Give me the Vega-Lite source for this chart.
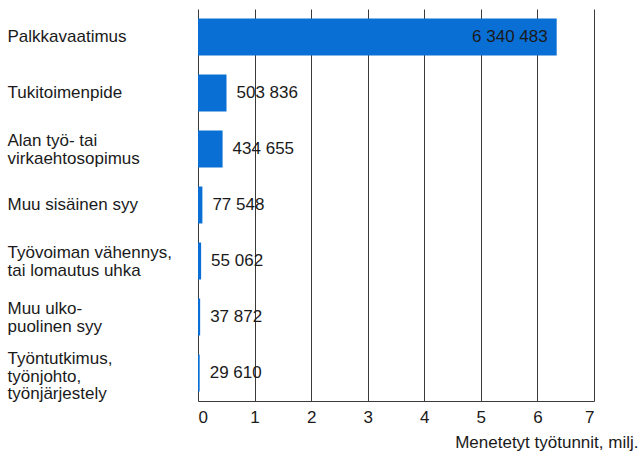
{
  "$schema": "https://vega.github.io/schema/vega-lite/v6.json",
  "width": 396,
  "height": 392,
  "autosize": "none",
  "padding": {"left": 198, "top": 9, "right": 48, "bottom": 53},
  "background": "white",
  "config": {
    "view": {"stroke": null},
    "font": "Liberation Sans",
    "locale": {"number": {"decimal": ",", "thousands": " ", "grouping": [3], "currency": ["", " €"]}}
  },
  "data": {
    "values": [
      {"syy": "Palkkavaatimus", "tunnit": 6340483},
      {"syy": "Tukitoimenpide", "tunnit": 503836},
      {"syy": "Alan työ- tai\nvirkaehtosopimus", "tunnit": 434655},
      {"syy": "Muu sisäinen syy", "tunnit": 77548},
      {"syy": "Työvoiman vähennys,\ntai lomautus uhka", "tunnit": 55062},
      {"syy": "Muu ulko-\npuolinen syy", "tunnit": 37872},
      {"syy": "Työntutkimus,\ntyönjohto,\ntyönjärjestely", "tunnit": 29610}
    ]
  },
  "encoding": {
    "y": {
      "field": "syy",
      "type": "nominal",
      "sort": null,
      "scale": {"paddingInner": 0.34, "paddingOuter": 0.17},
      "axis": {
        "title": null,
        "ticks": false,
        "domain": false,
        "labelAlign": "left",
        "labelBaseline": "middle",
        "labelPadding": 191,
        "labelFontSize": 17,
        "labelLineHeight": 17.5,
        "labelColor": "#1a1a1a",
        "labelLimit": 300,
        "labelOffset": {
          "condition": [
            {"test": "length(split(datum.value, '\\n')) == 3", "value": -14},
            {"test": "length(split(datum.value, '\\n')) == 2", "value": -8}
          ],
          "value": 0
        },
        "labelExpr": "split(datum.label, '\\n')"
      }
    },
    "x": {
      "field": "tunnit",
      "type": "quantitative",
      "scale": {"domain": [0, 7000000], "nice": false},
      "axis": {
        "values": [0, 1000000, 2000000, 3000000, 4000000, 5000000, 6000000, 7000000],
        "labelExpr": "datum.value / 1000000",
        "grid": true,
        "gridColor": "#3a3a3a",
        "gridWidth": 1,
        "gridOpacity": 1,
        "domain": true,
        "domainColor": "#3a3a3a",
        "ticks": false,
        "labelPadding": 8,
        "labelFontSize": 17,
        "labelColor": "#1a1a1a",
        "title": "Menetetyt työtunnit, milj.",
        "titleFontSize": 17,
        "titleFontWeight": "normal",
        "titleColor": "#1a1a1a",
        "titleAlign": "right",
        "titleAnchor": null,
        "titleX": 440,
        "titleY": 46,
        "titleBaseline": "alphabetic"
      }
    }
  },
  "layer": [
    {
      "mark": {"type": "bar", "color": "#0a6fd4"}
    },
    {
      "transform": [{"filter": "datum.tunnit > 1000000"}],
      "mark": {"type": "text", "align": "right", "baseline": "middle", "dx": -9, "fontSize": 17, "color": "#1a1a1a"},
      "encoding": {"text": {"field": "tunnit", "type": "quantitative", "format": ",d"}}
    },
    {
      "transform": [{"filter": "datum.tunnit <= 1000000"}],
      "mark": {"type": "text", "align": "left", "baseline": "middle", "dx": 10, "fontSize": 17, "color": "#1a1a1a"},
      "encoding": {"text": {"field": "tunnit", "type": "quantitative", "format": ",d"}}
    }
  ]
}
